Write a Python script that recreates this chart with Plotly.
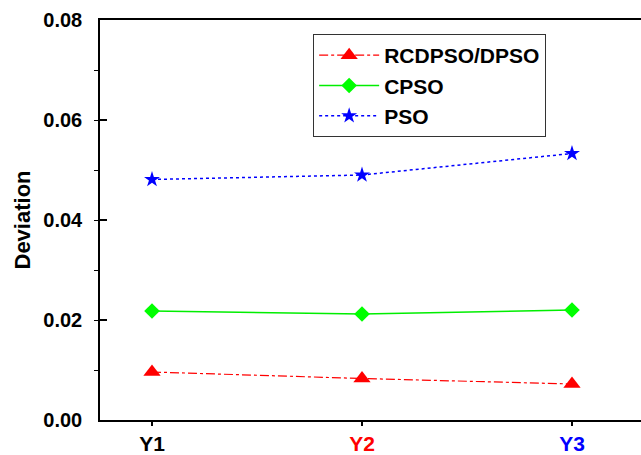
import plotly.graph_objects as go

# Evaluation groups on the x axis
groups = ["Y1", "Y2", "Y3"]
group_colors = ["black", "red", "blue"]

# Deviation per algorithm
rcdpso = [0.0096, 0.0083, 0.0072]
cpso = [0.0218, 0.0212, 0.0220]
pso = [0.0481, 0.0490, 0.0533]

x_pos = list(range(len(groups)))
font_family = "Liberation Sans, Arial, Helvetica, sans-serif"

fig = go.Figure()
fig.add_trace(go.Scatter(
    x=x_pos, y=rcdpso, name="RCDPSO/DPSO", mode="lines+markers",
    line=dict(color="#FF0000", width=1.2, dash="dashdot"),
    marker=dict(symbol="triangle-up", size=15, color="#FF0000"),
))
fig.add_trace(go.Scatter(
    x=x_pos, y=cpso, name="CPSO", mode="lines+markers",
    line=dict(color="#00EE00", width=1.5),
    marker=dict(symbol="diamond", size=12, color="#00FF00"),
))
fig.add_trace(go.Scatter(
    x=x_pos, y=pso, name="PSO", mode="lines+markers",
    line=dict(color="#0000FF", width=1.5, dash="dot"),
    marker=dict(symbol="star", size=12, color="#0000FF"),
))

tick_text = [f"<span style='color:{c}'>{g}</span>" for g, c in zip(groups, group_colors)]

fig.update_layout(
    width=641, height=455,
    margin=dict(l=100, r=0, t=20, b=35),
    paper_bgcolor="white", plot_bgcolor="white",
    font=dict(family=font_family, color="black"),
    showlegend=True,
    legend=dict(
        x=0.394, y=0.965, xanchor="left", yanchor="top",
        bordercolor="#333333", borderwidth=1, bgcolor="white",
        font=dict(size=21, family=font_family, weight="bold"),
        itemwidth=60, tracegroupgap=0,
    ),
    xaxis=dict(
        range=[-0.2476, 2.3286], tickmode="array", tickvals=x_pos, ticktext=tick_text,
        ticks="outside", ticklen=4, tickwidth=1.5, tickcolor="black",
        showline=True, linecolor="black", linewidth=1.5, mirror=True,
        showgrid=False, zeroline=False, ticklabelstandoff=0, automargin=False,
        tickfont=dict(size=21, family=font_family, weight="bold"),
    ),
    yaxis=dict(
        range=[0, 0.08], tickmode="linear", tick0=0, dtick=0.02, tickformat=".2f",
        ticks="inside", ticklen=7, tickwidth=1.5, tickcolor="black",
        minor=dict(dtick=0.01, ticks="outside", ticklen=4, tickwidth=1.2, tickcolor="black", showgrid=False),
        showline=True, linecolor="black", linewidth=1.5,
        showgrid=False, zeroline=False, ticklabelstandoff=12, automargin=False,
        tickfont=dict(size=20, family=font_family, weight="bold"),
        title=dict(text="Deviation", standoff=7,
                   font=dict(size=22, family=font_family, weight="bold")),
    ),
)

fig.write_html("out.html")
